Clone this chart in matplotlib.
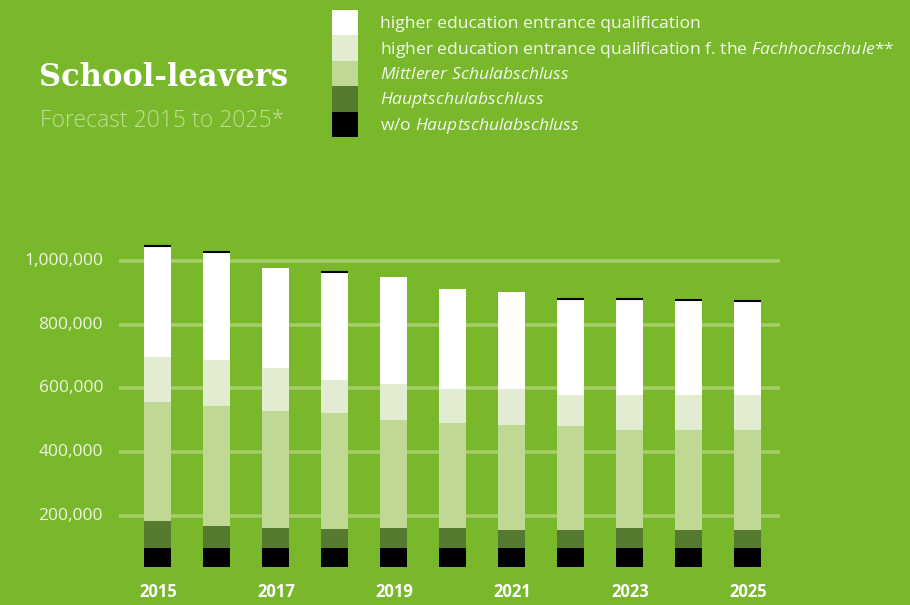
import matplotlib
matplotlib.use("Agg")
import matplotlib.pyplot as plt
import numpy as np

years = [2015, 2016, 2017, 2018, 2019, 2020, 2021, 2022, 2023, 2024, 2025]
year_labels = ["2015", "", "2017", "", "2019", "", "2021", "", "2023", "", "2025"]

# segment values (bottom to top)
wo_hauptschul = [59000] * 11
hauptschul = [85000, 69000, 63000, 60000, 63000, 63000, 56000, 56000, 63000, 56000, 56000]
mittlerer = [373000, 376000, 367000, 363000, 338000, 329000, 329000, 326000, 307000, 314000, 314000]
fachhochschul = [141000, 144000, 135000, 103000, 113000, 106000, 113000, 97000, 109000, 109000, 109000]
hochschul = [348000, 337000, 313000, 338000, 335000, 313000, 304000, 300000, 300000, 297000, 294000]
top_edge = [True, True, False, True, False, False, False, True, True, True, True]

yticks = [200000, 400000, 600000, 800000, 1000000]
ytick_labels = ["200,000", "400,000", "600,000", "800,000", "1,000,000"]

series_names = [
    "higher education entrance qualification",
    r"higher education entrance qualification f. the $\mathit{Fachhochschule}$**",
    r"$\mathit{Mittlerer\ Schulabschluss}$",
    r"$\mathit{Hauptschulabschluss}$",
    r"w/o $\mathit{Hauptschulabschluss}$",
]

BG = "#78B82A"
colors_top_down = ["#FFFFFF", "#E2ECD0", "#BFD894", "#567B30", "#000000"]
BASE = 41000  # visual baseline of the bars

FONT = "Open Sans"
plt.rcParams["font.family"] = [FONT, "DejaVu Sans"]
plt.rcParams["mathtext.fontset"] = "custom"
plt.rcParams["mathtext.it"] = FONT + ":italic"
plt.rcParams["mathtext.rm"] = FONT

W, H = 910, 605
fig = plt.figure(figsize=(W / 100, H / 100), dpi=100, facecolor=BG)

ax = fig.add_axes([119 / W, 1 - 579.8 / H, (780 - 119) / W, (579.8 - 228.8) / H])
ax.set_facecolor(BG)
x = np.arange(len(years))
ax.set_xlim(-0.6525, 10.551)
ax.set_ylim(0, 1100000)

for yv in yticks:
    ax.axhline(yv, color="#A3CE68", lw=2.6, zorder=1)

bw = 0.46
segments = [wo_hauptschul, hauptschul, mittlerer, fachhochschul, hochschul]
seg_colors = colors_top_down[::-1]
bottom = np.full(len(years), float(BASE))
for vals, c in zip(segments, seg_colors):
    ax.bar(x, vals, bw, bottom=bottom, color=c, zorder=2, linewidth=0)
    bottom = bottom + np.array(vals)

for i, flag in enumerate(top_edge):
    if flag:
        ax.plot([x[i] - bw / 2, x[i] + bw / 2], [bottom[i], bottom[i]],
                color="black", lw=1.5, zorder=3, solid_capstyle="butt")

for s in ax.spines.values():
    s.set_visible(False)
ax.set_xticks([])
ax.set_yticks([])

# y tick labels
for yv, lab in zip(yticks, ytick_labels):
    ax.text(-0.6525 - 16 / 59, yv, lab, ha="right", va="center",
            fontsize=12.5, color="#EEF4E2")

# year labels
for xi, lab in zip(x, year_labels):
    if lab:
        fig.text((157.5 + 59 * xi + 1) / W, 1 - 592 / H, lab, ha="center", va="center",
                 fontsize=12, fontweight="bold", color="white")

# title
fig.text(39 / W, 1 - 77 / H, "School-leavers", ha="left", va="center",
         fontsize=22, fontweight="bold", color="white", family=["DejaVu Serif"])
fig.text(40 / W, 1 - 121 / H, "Forecast 2015 to 2025*", ha="left", va="center",
         fontsize=16.5, color="#C3DC98", fontweight="light")

# legend
top = 10
hbox = 25.4
for k, (name, c) in enumerate(zip(series_names, colors_top_down)):
    y0 = top + k * hbox
    fig.patches.append(plt.Rectangle((332 / W, 1 - (y0 + hbox) / H), 26 / W, hbox / H,
                                     transform=fig.transFigure, color=c, lw=0))
    fig.text(380 / W, 1 - (y0 + hbox / 2 + 1.5) / H, name, ha="left", va="center",
             fontsize=12.6, color="#F4F8EC")

fig.savefig("out.png", dpi=100, facecolor=BG)
